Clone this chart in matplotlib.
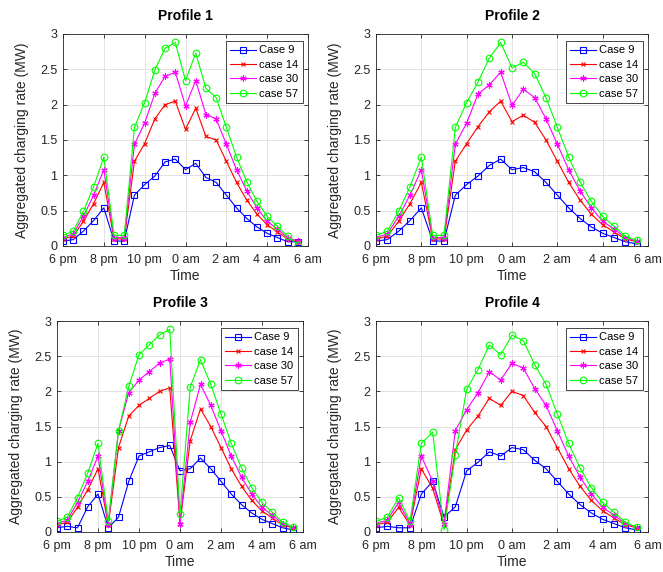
"""
Aggregated EV charging rate for four arrival profiles, night-time window.

Output:
    out.png
"""

import numpy as np
import matplotlib.pyplot as plt

plt.rcParams["font.family"] = ["Liberation Sans", "DejaVu Sans"]

# half-hour steps starting at 6 pm (hours after 18:00)
hours = np.arange(24) * 0.5
tick_pos = [0, 2, 4, 6, 8, 10, 12]
tick_labels = ["6 pm", "8 pm", "10 pm", "0 am", "2 am", "4 am", "6 am"]

series_names = ["Case 9", "case 14", "case 30", "case 57"]

# Profile 1
p1_case9 = [0.07, 0.09, 0.21, 0.36, 0.54, 0.07, 0.07, 0.72, 0.87, 0.99, 1.19, 1.23,
            1.08, 1.17, 0.97, 0.90, 0.72, 0.54, 0.39, 0.27, 0.18, 0.12, 0.06, 0.06]
p1_case14 = [0.10, 0.14, 0.35, 0.60, 0.90, 0.10, 0.10, 1.20, 1.45, 1.80, 2.00, 2.05,
             1.65, 1.95, 1.55, 1.50, 1.20, 0.90, 0.65, 0.45, 0.30, 0.20, 0.10, 0.06]
p1_case30 = [0.12, 0.17, 0.42, 0.72, 1.08, 0.12, 0.12, 1.44, 1.74, 2.16, 2.40, 2.46,
             1.98, 2.34, 1.86, 1.80, 1.44, 1.08, 0.78, 0.54, 0.35, 0.24, 0.12, 0.07]
p1_case57 = [0.15, 0.21, 0.49, 0.84, 1.26, 0.15, 0.15, 1.68, 2.03, 2.49, 2.80, 2.88,
             2.34, 2.73, 2.23, 2.10, 1.68, 1.26, 0.91, 0.63, 0.42, 0.28, 0.14, 0.02]

# Profile 2
p2_case9 = [0.07, 0.09, 0.21, 0.36, 0.54, 0.07, 0.07, 0.72, 0.87, 0.99, 1.14, 1.23,
            1.08, 1.11, 1.05, 0.90, 0.72, 0.54, 0.39, 0.27, 0.18, 0.12, 0.06, 0.03]
p2_case14 = [0.10, 0.14, 0.35, 0.60, 0.90, 0.10, 0.10, 1.20, 1.45, 1.69, 1.90, 2.05,
             1.76, 1.85, 1.75, 1.50, 1.20, 0.90, 0.65, 0.45, 0.30, 0.20, 0.10, 0.06]
p2_case30 = [0.12, 0.17, 0.42, 0.72, 1.08, 0.12, 0.12, 1.44, 1.74, 2.15, 2.28, 2.46,
             1.99, 2.22, 2.10, 1.80, 1.44, 1.08, 0.78, 0.54, 0.35, 0.24, 0.12, 0.07]
p2_case57 = [0.15, 0.21, 0.49, 0.84, 1.26, 0.15, 0.15, 1.68, 2.03, 2.32, 2.66, 2.88,
             2.52, 2.60, 2.44, 2.10, 1.68, 1.26, 0.91, 0.63, 0.42, 0.28, 0.14, 0.08]

# Profile 3
p3_case9 = [0.06, 0.08, 0.06, 0.36, 0.54, 0.06, 0.21, 0.72, 1.08, 1.14, 1.20, 1.23,
            0.87, 0.90, 1.05, 0.90, 0.72, 0.54, 0.39, 0.27, 0.18, 0.12, 0.06, 0.03]
p3_case14 = [0.10, 0.14, 0.35, 0.60, 0.90, 0.10, 1.20, 1.65, 1.80, 1.90, 2.00, 2.05,
             0.12, 1.30, 1.75, 1.50, 1.20, 0.90, 0.65, 0.45, 0.30, 0.20, 0.10, 0.06]
p3_case30 = [0.12, 0.17, 0.42, 0.72, 1.08, 0.12, 1.44, 1.98, 2.16, 2.28, 2.40, 2.46,
             0.12, 1.56, 2.10, 1.80, 1.44, 1.08, 0.78, 0.54, 0.35, 0.24, 0.12, 0.07]
p3_case57 = [0.15, 0.21, 0.49, 0.84, 1.26, 0.15, 1.44, 2.07, 2.52, 2.66, 2.80, 2.88,
             0.25, 2.06, 2.45, 2.10, 1.68, 1.26, 0.91, 0.63, 0.42, 0.28, 0.14, 0.07]

# Profile 4
p4_case9 = [0.06, 0.08, 0.06, 0.06, 0.54, 0.72, 0.21, 0.36, 0.87, 0.99, 1.14, 1.08,
            1.20, 1.17, 1.02, 0.90, 0.72, 0.54, 0.39, 0.27, 0.18, 0.12, 0.06, 0.03]
p4_case14 = [0.10, 0.14, 0.35, 0.10, 0.90, 0.62, 0.10, 1.17, 1.45, 1.65, 1.90, 1.80,
             2.00, 1.94, 1.70, 1.50, 1.20, 0.90, 0.65, 0.45, 0.30, 0.20, 0.10, 0.06]
p4_case30 = [0.12, 0.17, 0.42, 0.12, 1.08, 0.72, 0.12, 1.44, 1.74, 1.98, 2.28, 2.16,
             2.40, 2.33, 2.04, 1.80, 1.44, 1.08, 0.78, 0.54, 0.35, 0.24, 0.12, 0.07]
p4_case57 = [0.15, 0.21, 0.49, 0.15, 1.26, 1.42, 0.03, 1.10, 2.03, 2.31, 2.66, 2.52,
             2.80, 2.72, 2.38, 2.10, 1.68, 1.26, 0.91, 0.63, 0.42, 0.28, 0.14, 0.07]

profiles = [
    ("Profile 1", [p1_case9, p1_case14, p1_case30, p1_case57]),
    ("Profile 2", [p2_case9, p2_case14, p2_case30, p2_case57]),
    ("Profile 3", [p3_case9, p3_case14, p3_case30, p3_case57]),
    ("Profile 4", [p4_case9, p4_case14, p4_case30, p4_case57]),
]

# MATLAB-like styles: blue squares, red x, magenta asterisk, green circles
styles = [
    dict(color="#0000ff", marker="s", ms=4.3, mfc="none"),
    dict(color="#ff0000", marker="x", ms=3.5),
    dict(color="#ff00ff", marker=(6, 2, 0), ms=4.5),
    dict(color="#00ff00", marker="o", ms=4.8, mfc="none"),
]

W, H = 663, 572
# axes boxes in pixels: left, top, right, bottom
boxes = [(63, 34, 308, 246), (376, 34, 648, 246),
         (57, 321, 303, 532), (376, 321, 648, 532)]

fig = plt.figure(figsize=(W / 100, H / 100), dpi=100)

for (title, data), (l, t, r, b) in zip(profiles, boxes):
    ax = fig.add_axes([l / W, 1 - b / H, (r - l) / W, (b - t) / H])
    for vals, name, st in zip(data, series_names, styles):
        ax.plot(hours, vals, lw=0.8, mew=0.8, label=name, **st)

    ax.set_xlim(0, 12)
    ax.set_ylim(0, 3)
    ax.set_xticks(tick_pos)
    ax.set_xticklabels(tick_labels)
    ax.set_yticks(np.arange(0, 3.01, 0.5))
    ax.set_yticklabels(["0", "0.5", "1", "1.5", "2", "2.5", "3"])
    ax.tick_params(direction="in", length=3, width=0.6, labelsize=9,
                   colors="#262626", top=True, right=True)
    ax.tick_params(axis="x", pad=6)
    ax.tick_params(axis="y", pad=4)
    ax.grid(True, color="#e3e3e3", lw=0.7)
    ax.set_axisbelow(True)
    for sp in ax.spines.values():
        sp.set_linewidth(0.6)
        sp.set_color("#262626")

    ax.set_title(title, fontsize=10, fontweight="bold", pad=10)
    ax.set_xlabel("Time", fontsize=10, color="#262626", labelpad=2)
    ax.set_ylabel("Aggregated charging rate (MW)", fontsize=10,
                  color="#262626", labelpad=8)

    # legend corner sits 5 px left of / 7 px below the axes corner
    anchor = ((r - l - 5) / (r - l), (b - t - 7) / (b - t))
    leg = ax.legend(loc="upper right", bbox_to_anchor=anchor, borderaxespad=0,
                    fontsize=8, frameon=True, fancybox=False, framealpha=1,
                    borderpad=0.4, handlelength=2.3, labelspacing=0.4,
                    handletextpad=0.35)
    leg.get_frame().set_edgecolor("#262626")
    leg.get_frame().set_linewidth(0.6)

fig.savefig("out.png", dpi=100)
